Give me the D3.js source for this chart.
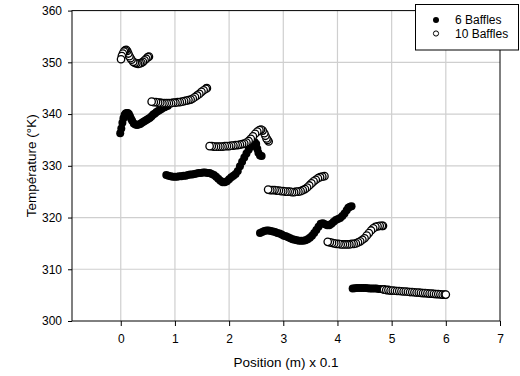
<!DOCTYPE html>
<html lang="en">
<head>
  <meta charset="UTF-8">
  <title>Température vs Position</title>
  <script src="https://d3js.org/d3.v7.min.js"></script>
  <style>
    body { margin: 0; background: #fff; }
    svg { display: block; font-family: "Liberation Sans", Arial, sans-serif; }
    .grid line { stroke: #cfcfcf; stroke-width: 1.2px; }
    .tick-label { font-size: 12px; fill: #000; }
    .axis-title { font-size: 13.5px; fill: #000; }
    .legend-text { font-size: 12px; fill: #000; }
  </style>
</head>
<body>
  <svg id="chart" width="520" height="376"></svg>
  <script>
    // axis ticks
    const xTicks = [0, 1, 2, 3, 4, 5, 6, 7];
    const yTicks = [300, 310, 320, 330, 340, 350, 360];
    const seriesNames = ["6 Baffles", "10 Baffles"];

    // 6 Baffles, [position, temperature]
    const sixBaffles = [
      // first stage
      [-0.01,336.3],[0.01,337.2],[0.03,338.3],[0.05,339.2],[0.07,339.8],[0.09,340.1],[0.11,340.2],[0.13,340.2],
      [0.15,340.0],[0.17,339.6],[0.19,339.1],[0.21,338.7],[0.24,338.2],[0.27,338.0],[0.30,337.9],[0.33,338.0],
      [0.36,338.1],[0.39,338.3],[0.42,338.5],[0.45,338.7],[0.48,338.9],[0.51,339.1],[0.54,339.3],[0.57,339.6],
      [0.60,339.9],[0.63,340.1],[0.66,340.4],[0.69,340.6],[0.72,340.8],[0.75,341.0],[0.78,341.2],[0.81,341.3],
      [0.84,341.5],[0.87,341.6],
      // second stage
      [0.84,328.2],[0.88,328.1],[0.92,328.0],[0.96,327.9],[1.00,327.9],[1.04,327.9],[1.08,328.0],[1.12,328.0],
      [1.16,328.1],[1.20,328.1],[1.24,328.2],[1.28,328.3],[1.32,328.3],[1.36,328.4],[1.40,328.5],[1.44,328.6],
      [1.48,328.6],[1.52,328.7],[1.56,328.7],[1.60,328.6],[1.64,328.6],[1.68,328.4],[1.72,328.2],[1.76,327.9],
      [1.80,327.5],[1.84,327.1],[1.88,326.8],[1.92,326.8],[1.96,327.0],[2.00,327.4],[2.04,327.8],[2.08,328.1],
      [2.12,328.4],[2.16,329.0],[2.20,329.9],[2.24,330.8],[2.28,331.6],[2.32,332.4],[2.36,333.1],[2.40,333.7],
      [2.44,334.3],[2.47,334.6],[2.50,334.2],[2.52,333.3],[2.54,332.5],[2.57,332.0],[2.60,331.9],
      // third stage
      [2.57,317.0],[2.61,317.2],[2.65,317.4],[2.69,317.5],[2.73,317.5],[2.77,317.4],[2.81,317.3],[2.85,317.2],
      [2.89,317.0],[2.93,316.9],[2.97,316.7],[3.01,316.5],[3.05,316.4],[3.09,316.2],[3.13,316.0],[3.17,315.8],
      [3.21,315.7],[3.25,315.6],[3.29,315.5],[3.33,315.5],[3.37,315.5],[3.41,315.6],[3.45,315.8],[3.49,316.1],
      [3.53,316.5],[3.57,317.0],[3.61,317.6],[3.65,318.2],[3.69,318.8],[3.73,318.9],[3.77,318.7],[3.81,318.5],
      [3.85,318.5],[3.89,318.8],[3.93,319.2],[3.97,319.5],[4.01,319.7],[4.05,319.9],[4.09,320.3],[4.13,320.8],
      [4.17,321.4],[4.20,321.9],[4.23,322.1],[4.26,322.2],
      // fourth stage
      [4.28,306.3],[4.32,306.35],[4.36,306.4],[4.40,306.4],[4.44,306.4],[4.48,306.4],[4.52,306.4],[4.56,306.35],
      [4.60,306.3],[4.64,306.3],[4.68,306.3],[4.72,306.3],[4.76,306.2],[4.80,306.2],[4.84,306.1],[4.88,306.0],
      [4.92,305.9],[4.96,305.9],[5.00,305.8]
    ];

    // 10 Baffles, in measuring order (the last one drawn stays white)
    const tenBaffles = [
      [0.52,351.1],[0.50,351.0],[0.47,350.7],[0.44,350.4],[0.41,350.1],[0.38,349.9],[0.35,349.8],[0.32,349.7],
      [0.29,349.8],[0.26,349.9],[0.23,350.1],[0.20,350.5],[0.18,350.8],[0.16,351.2],[0.14,351.7],[0.12,352.2],
      [0.10,352.4],[0.08,352.3],[0.06,352.1],[0.04,351.7],[0.02,351.2],[0.005,350.6],

      [1.59,345.0],[1.57,344.9],[1.53,344.6],[1.49,344.3],[1.45,343.9],[1.41,343.6],[1.37,343.3],[1.33,343.0],
      [1.29,342.8],[1.25,342.7],[1.21,342.6],[1.17,342.5],[1.13,342.4],[1.09,342.3],[1.05,342.3],[1.01,342.2],
      [0.97,342.2],[0.93,342.1],[0.89,342.1],[0.85,342.1],[0.81,342.1],[0.77,342.1],[0.73,342.2],[0.69,342.2],
      [0.65,342.3],[0.61,342.3],[0.57,342.4],

      [2.73,334.7],[2.71,335.0],[2.69,335.3],[2.67,335.8],[2.65,336.3],[2.62,336.8],[2.59,337.0],[2.56,336.9],
      [2.52,336.6],[2.48,336.2],[2.44,335.7],[2.40,335.2],[2.36,334.8],[2.32,334.5],[2.28,334.3],[2.24,334.2],
      [2.20,334.1],[2.16,334.0],[2.12,334.0],[2.08,333.9],[2.04,333.9],[2.00,333.8],[1.96,333.8],[1.92,333.8],
      [1.88,333.7],[1.84,333.7],[1.80,333.7],[1.76,333.7],[1.72,333.7],[1.68,333.8],[1.64,333.8],

      [3.76,328.0],[3.72,327.9],[3.68,327.8],[3.64,327.6],[3.60,327.3],[3.56,327.0],[3.52,326.6],[3.48,326.2],
      [3.44,325.8],[3.40,325.5],[3.36,325.3],[3.32,325.1],[3.28,325.0],[3.24,325.0],[3.20,324.9],[3.16,324.9],
      [3.12,325.0],[3.08,325.0],[3.04,325.0],[3.00,325.1],[2.96,325.1],[2.92,325.2],[2.88,325.2],[2.84,325.3],
      [2.80,325.3],[2.76,325.3],[2.72,325.4],

      [4.84,318.4],[4.82,318.4],[4.78,318.4],[4.74,318.3],[4.70,318.2],[4.66,317.9],[4.62,317.5],[4.58,317.0],
      [4.54,316.5],[4.50,316.0],[4.46,315.7],[4.42,315.4],[4.38,315.2],[4.34,315.0],[4.30,314.9],[4.26,314.9],
      [4.22,314.8],[4.18,314.8],[4.14,314.8],[4.10,314.8],[4.06,314.8],[4.02,314.9],[3.98,314.9],[3.94,315.0],
      [3.90,315.1],[3.86,315.2],[3.82,315.3],

      [4.86,306.1],[4.90,306.0],[4.94,306.0],[4.98,305.9],[5.02,305.9],[5.06,305.85],[5.10,305.8],[5.14,305.8],
      [5.18,305.75],[5.22,305.7],[5.26,305.7],[5.30,305.65],[5.34,305.6],[5.38,305.6],[5.42,305.55],[5.46,305.5],
      [5.50,305.5],[5.54,305.45],[5.58,305.4],[5.62,305.4],[5.66,305.35],[5.70,305.3],[5.74,305.3],[5.78,305.25],
      [5.82,305.2],[5.86,305.2],[5.90,305.15],[5.94,305.1],[5.98,305.1],[6.00,305.1]
    ];

    const plot = {left: 72, right: 500, top: 10.6, bottom: 321};

    const svg = d3.select("#chart");

    const x = d3.scaleLinear().domain([-0.9, 7]).range([plot.left, plot.right]);
    const y = d3.scaleLinear().domain([300, 360]).range([plot.bottom, plot.top]);

    // grid
    const grid = svg.append("g").attr("class", "grid");
    grid.selectAll(".vx")
      .data(xTicks.filter(d => d < 7))
      .join("line")
      .attr("x1", d => x(d)).attr("x2", d => x(d))
      .attr("y1", plot.top).attr("y2", plot.bottom);
    grid.selectAll(".hy")
      .data(yTicks.filter(d => d > 300 && d < 360))
      .join("line")
      .attr("x1", plot.left).attr("x2", plot.right)
      .attr("y1", d => y(d)).attr("y2", d => y(d));

    // frame
    svg.append("rect")
      .attr("x", plot.left).attr("y", plot.top)
      .attr("width", plot.right - plot.left)
      .attr("height", plot.bottom - plot.top)
      .attr("fill", "none")
      .attr("stroke", "#000")
      .attr("stroke-width", 1);

    // axes
    const xAxis = svg.append("g")
      .attr("transform", `translate(0,${plot.bottom})`)
      .call(d3.axisBottom(x).tickValues(xTicks).tickSize(5).tickPadding(8).tickFormat(d3.format("d")));
    const yAxis = svg.append("g")
      .attr("transform", `translate(${plot.left},0)`)
      .call(d3.axisLeft(y).tickValues(yTicks).tickSize(4).tickPadding(6).tickFormat(d3.format("d")));
    [xAxis, yAxis].forEach(a => {
      a.select(".domain").remove();
      a.selectAll(".tick line").attr("stroke", "#000");
      a.selectAll(".tick text")
        .attr("class", "tick-label")
        .attr("font-family", null)
        .attr("font-size", null);
    });

    // data marks
    svg.append("g").selectAll("circle")
      .data(sixBaffles)
      .join("circle")
      .attr("cx", d => x(d[0]))
      .attr("cy", d => y(d[1]))
      .attr("r", 4)
      .attr("fill", "#000");

    svg.append("g").selectAll("circle")
      .data(tenBaffles)
      .join("circle")
      .attr("cx", d => x(d[0]))
      .attr("cy", d => y(d[1]))
      .attr("r", 3.7)
      .attr("fill", "#fff")
      .attr("stroke", "#000")
      .attr("stroke-width", 1.3);

    // titles
    svg.append("text")
      .attr("class", "axis-title")
      .attr("x", (plot.left + plot.right) / 2)
      .attr("y", 367)
      .attr("text-anchor", "middle")
      .text("Position (m) x 0.1");

    svg.append("text")
      .attr("class", "axis-title")
      .attr("transform", `translate(36,${(plot.top + plot.bottom) / 2}) rotate(-90)`)
      .attr("text-anchor", "middle")
      .text("Température (°K)");

    // legend
    const legend = svg.append("g");
    legend.append("rect")
      .attr("x", 415.5).attr("y", 4.5)
      .attr("width", 103).attr("height", 45.5)
      .attr("fill", "#fff")
      .attr("stroke", "#000")
      .attr("stroke-width", 1);

    const items = legend.selectAll(".item")
      .data(seriesNames)
      .join("g")
      .attr("transform", (d, i) => `translate(436,${20 + i * 13.5})`);
    items.append("circle")
      .attr("r", (d, i) => i === 0 ? 3 : 2.6)
      .attr("fill", (d, i) => i === 0 ? "#000" : "#fff")
      .attr("stroke", "#000")
      .attr("stroke-width", (d, i) => i === 0 ? 0 : 1);
    items.append("text")
      .attr("class", "legend-text")
      .attr("x", 19)
      .attr("y", 4.2)
      .text(d => d);
  </script>
</body>
</html>
